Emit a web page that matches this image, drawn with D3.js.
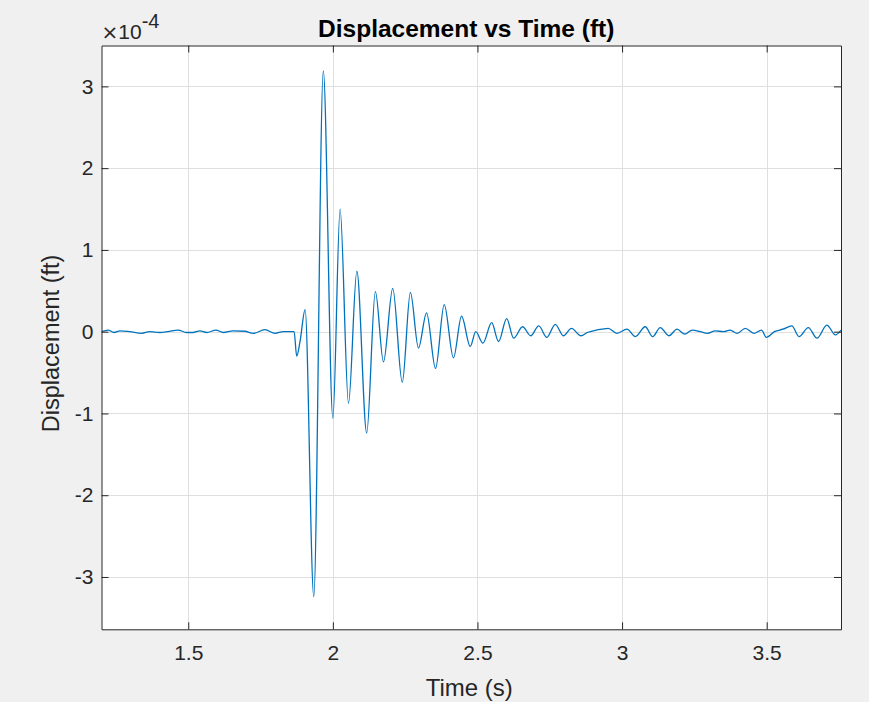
<!DOCTYPE html>
<html>
<head>
<meta charset="utf-8">
<script src="https://cdn.jsdelivr.net/npm/d3@7"></script>
<style>
  html, body { margin: 0; padding: 0; background: #f0f0f0; }
  svg { display: block; }
  text { font-family: "Liberation Sans", Arial, Helvetica, sans-serif; }
</style>
</head>
<body>
<svg id="chart" width="869" height="702"></svg>
<script>
// ---- data (displacement in units of 1e-4 ft) ----
const time = [
  1.200, 1.223, 1.243, 1.264, 1.298, 1.339, 1.367, 1.402, 1.429, 1.465,
  1.494, 1.516, 1.540, 1.564, 1.596, 1.621, 1.655, 1.696, 1.725, 1.765,
  1.800, 1.829, 1.866, 1.875, 1.8865, 1.904, 1.934, 1.967, 2.000, 2.025,
  2.054, 2.083, 2.117, 2.147, 2.175, 2.207, 2.240, 2.268, 2.296, 2.324,
  2.355, 2.385, 2.417, 2.445, 2.475, 2.494, 2.519, 2.549, 2.573, 2.601,
  2.625, 2.656, 2.684, 2.712, 2.740, 2.769, 2.797, 2.825, 2.858, 2.880,
  2.911, 2.930, 2.952, 2.982, 3.017, 3.046, 3.080, 3.106, 3.132, 3.162,
  3.190, 3.217, 3.243, 3.271, 3.295, 3.322, 3.351, 3.374, 3.398, 3.426,
  3.456, 3.482, 3.499, 3.527, 3.556, 3.587, 3.612, 3.644, 3.674, 3.708,
  3.738, 3.757
];
const displacement = [
  0.00, 0.02, -0.01, 0.01, 0.00, -0.02, 0.00, -0.01, 0.00, 0.02,
  -0.01, -0.01, 0.01, -0.01, 0.02, -0.01, 0.01, 0.005, -0.02, 0.025,
  -0.02, 0.00, 0.00, -0.30, -0.12, 0.27, -3.24, 3.19, -1.06, 1.50,
  -0.875, 0.74, -1.24, 0.49, -0.37, 0.53, -0.62, 0.48, -0.20, 0.23,
  -0.45, 0.33, -0.32, 0.19, -0.18, 0.00, -0.14, 0.11, -0.12, 0.16,
  -0.08, 0.06, -0.05, 0.07, -0.07, 0.09, -0.05, 0.04, -0.05, -0.01,
  0.02, 0.03, 0.04, -0.02, 0.03, -0.06, 0.06, -0.06, 0.05, -0.05,
  0.03, -0.03, 0.02, 0.00, -0.02, 0.01, 0.00, 0.02, -0.02, 0.04,
  -0.02, 0.02, -0.07, 0.00, 0.03, 0.07, -0.06, 0.05, -0.08, 0.08,
  -0.04, 0.02
];
const xTicks = [1.5, 2, 2.5, 3, 3.5];
const yTicks = [-3, -2, -1, 0, 1, 2, 3];
const titleText = "Displacement vs Time (ft)";
const xLabelText = "Time (s)";
const yLabelText = "Displacement (ft)";

// ---- layout ----
const W = 869, H = 702;
const pL = 101.5, pR = 841, pT = 45.5, pB = 629.3;
const svg = d3.select("#chart");

svg.append("rect").attr("x", 0).attr("y", 0).attr("width", W).attr("height", H).attr("fill", "#f0f0f0");

const x = d3.scaleLinear().domain([1.2, 3.757]).range([pL, pR]);
const y = d3.scaleLinear().domain([-3.64, 3.5]).range([pB, pT]);

// axes background
svg.append("rect").attr("x", pL).attr("y", pT)
  .attr("width", pR - pL).attr("height", pB - pT).attr("fill", "#ffffff");

// grid
const grid = svg.append("g").attr("stroke", "#dfdfdf").attr("stroke-width", 1);
grid.selectAll("line.vx").data(xTicks).join("line")
  .attr("x1", d => Math.round(x(d)) + 0.5).attr("x2", d => Math.round(x(d)) + 0.5)
  .attr("y1", pT).attr("y2", pB);
grid.selectAll("line.hy").data(yTicks).join("line")
  .attr("y1", d => Math.round(y(d)) + 0.5).attr("y2", d => Math.round(y(d)) + 0.5)
  .attr("x1", pL).attr("x2", pR);

// line
svg.append("clipPath").attr("id", "clip").append("rect")
  .attr("x", pL).attr("y", pT).attr("width", pR - pL).attr("height", pB - pT);

const pts = time.map((t, i) => [t, displacement[i]]);
const line = d3.line().x(d => x(d[0])).y(d => y(d[1])).curve(d3.curveMonotoneX);
svg.append("path").datum(pts)
  .attr("clip-path", "url(#clip)")
  .attr("fill", "none").attr("stroke", "#0072BD").attr("stroke-width", 1.3)
  .attr("stroke-linejoin", "round")
  .attr("d", line);

// axes (MATLAB style box with inward ticks on all sides)
const axisColor = "#262626";
const tickLen = 7;
const axG = svg.append("g");
const xb = axG.append("g").attr("transform", `translate(0,${pB})`)
  .call(d3.axisBottom(x).tickValues(xTicks).tickSizeInner(-tickLen).tickSizeOuter(0).tickPadding(16).tickFormat(d3.format("")));
const xt = axG.append("g").attr("transform", `translate(0,${pT})`)
  .call(d3.axisTop(x).tickValues(xTicks).tickSizeInner(-tickLen).tickSizeOuter(0).tickFormat(""));
const yl = axG.append("g").attr("transform", `translate(${pL},0)`)
  .call(d3.axisLeft(y).tickValues(yTicks).tickSizeInner(-tickLen).tickSizeOuter(0).tickPadding(8).tickFormat(d3.format("")));
const yr = axG.append("g").attr("transform", `translate(${pR},0)`)
  .call(d3.axisRight(y).tickValues(yTicks).tickSizeInner(-tickLen).tickSizeOuter(0).tickFormat(""));

[xb, xt, yl, yr].forEach(g => {
  g.select(".domain").attr("stroke", axisColor).attr("stroke-width", 1);
  g.selectAll(".tick line").attr("stroke", axisColor).attr("stroke-width", 1);
  g.selectAll(".tick text").attr("fill", "#262626").attr("font-size", 21)
    .attr("font-family", "'Liberation Sans', Arial, sans-serif");
});
xb.selectAll(".tick text").attr("dy", "0.71em");
yl.selectAll(".tick text").text(d => String(d));

// exponent label ×10^-4
const expo = svg.append("text").attr("x", pL).attr("y", 39)
  .attr("font-size", 21).attr("fill", "#262626");
expo.append("tspan").attr("font-family", "'DejaVu Sans', sans-serif").attr("font-size", 20).text("\u00d7");
expo.append("tspan").text("10");
expo.append("tspan").attr("dy", -11).attr("font-size", 20).text("-4");

// title
svg.append("text").attr("x", (pL + pR) / 2 - 5).attr("y", 37)
  .attr("text-anchor", "middle").attr("font-size", 24.5).attr("font-weight", "bold")
  .attr("fill", "#000").text(titleText);

// x label
svg.append("text").attr("x", (pL + pR) / 2 - 2).attr("y", 696)
  .attr("text-anchor", "middle").attr("font-size", 24).attr("fill", "#262626")
  .text(xLabelText);

// y label
svg.append("text")
  .attr("transform", `translate(59,${(pT + pB) / 2 + 6}) rotate(-90)`)
  .attr("text-anchor", "middle").attr("font-size", 23.5).attr("fill", "#262626")
  .text(yLabelText);
</script>
</body>
</html>
